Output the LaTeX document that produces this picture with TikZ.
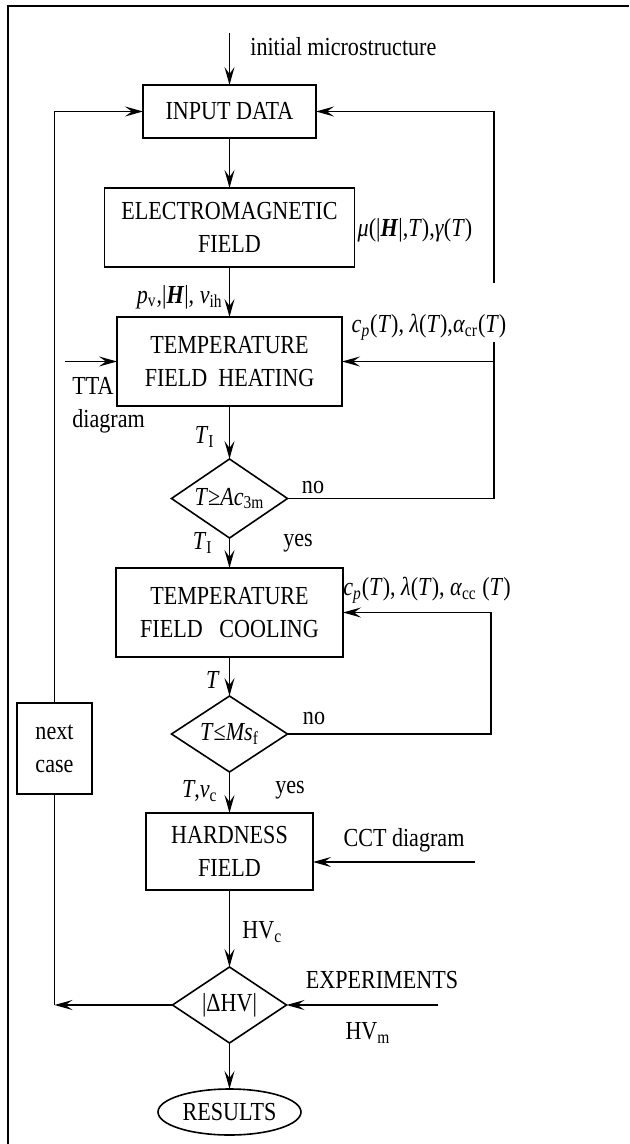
\documentclass[tikz,border=0pt]{standalone}
\usepackage{fontspec}
\setmainfont{Liberation Serif}[FakeStretch=0.85]
\usetikzlibrary{shapes.geometric, arrows.meta, positioning}
\tikzset{
    block/.style={rectangle, draw, line width=0.8pt, align=center, inner sep=0pt, outer sep=0pt},
    decision/.style={diamond, draw, line width=0.8pt, inner sep=0pt, outer sep=0pt, aspect=1.47, minimum width=58pt, minimum height=39.5pt},
    arrow/.style={line width=0.8pt, -{Stealth[length=9pt, width=5pt, inset=3.5pt]}},
    line/.style={line width=0.8pt}
}

\begin{document}
\begin{tikzpicture}[x=0.5pt, y=-0.5pt, every node/.append style={font=\fontsize{13}{16.5}\selectfont}]
    \useasboundingbox (0,0) rectangle (629,1144);
    % frame
    \draw[line width=1.2pt] (629,6) -- (8,6) -- (8,1144);

    % main column
    \node (input) [block, minimum width=86.5pt, minimum height=26.5pt] at (229.5,111.5) {INPUT DATA};
    \node (em) [block, below=25pt of input, minimum width=125pt, minimum height=39.5pt] {ELECTROMAGNETIC\\FIELD};
    \node (heat) [block, below=25pt of em, minimum width=112.5pt, minimum height=44.5pt] {TEMPERATURE\\FIELD\ \ HEATING};
    \node (dec1) [decision, below=26.5pt of heat] {\textit{T}≥\textit{Ac}\textsubscript{3m}};
    \node (cool) [block, below=15pt of dec1, minimum width=113.5pt, minimum height=44.5pt] {TEMPERATURE\\FIELD\ \ \ COOLING};
    \node (dec2) [decision, below=19.5pt of cool, minimum height=38pt] {\textit{T}≤\textit{Ms}\textsubscript{f}};
    \node (hard) [block, below=20.5pt of dec2, minimum width=83.5pt, minimum height=38.5pt] {HARDNESS\\FIELD};
    \node (dec3) [decision, below=38.5pt of hard, minimum width=57pt, minimum height=38pt] {|ΔHV|};
    \node (res) [ellipse, draw, line width=0.8pt, inner sep=0pt, outer sep=0pt, below=23pt of dec3, minimum width=71.5pt, minimum height=23pt] {RESULTS};

    % side box
    \node (next) [block, minimum width=37.5pt, minimum height=45.5pt] at (54.5,748.5) {next\\case};

    % free ends
    \coordinate (init) at (229.5,33);
    \coordinate (tta) at (65,361.5);
    \coordinate (rone) at (494,0);
    \coordinate (rtwo) at (491,0);
    \coordinate (cct) at (475,862);
    \coordinate (exp) at (438,0);

    % connectors
    \draw[arrow] (init) -- (input);
    \draw[arrow] (input) -- (em);
    \draw[arrow] (em) -- (heat);
    \draw[arrow] (heat) -- (dec1);
    \draw[arrow] (dec1) -- (cool);
    \draw[arrow] (cool) -- (dec2);
    \draw[arrow] (dec2) -- (hard);
    \draw[arrow] (hard) -- (dec3);
    \draw[arrow] (dec3) -- (res);
    \draw[arrow] (dec1.east) -| (rone |- input.east) -- (input.east);
    \draw[arrow] (rone |- heat.east) -- (heat.east);
    \draw[arrow] (dec2.east) -| (rtwo |- cool.east) -- (cool.east);
    \draw[arrow] (tta) -- (heat.west);
    \draw[arrow] (next.north) |- (input.west);
    \draw[line] (next.south) -- (next.south |- dec3.west);
    \draw[arrow] (dec3.west) -- (next.south |- dec3.west);
    \draw[arrow] (cct) -- (cct -| hard.east);
    \draw[arrow] (exp |- dec3.east) -- (dec3.east);

    % labels
    \node (initlbl) [anchor=west, inner sep=0pt] at (250,47) {initial microstructure};
    \node (emlbl) at (415,230) {\textit{μ}(|\textbf{\textit{H}}|,\textit{T}),\textit{γ}(\textit{T})};
    \node (pvlbl) [anchor=east, inner sep=0pt] at (223,297) {\textit{p}\textsubscript{v},|\textbf{\textit{H}}|, \textit{v}\textsubscript{ih}};
    \node (heatlbl) [anchor=base, fill=white, inner xsep=1pt, inner ysep=0pt, text height=25pt, text depth=4.5pt] at (429,333) {\textit{c\textsubscript{p}}(\textit{T}), \textit{λ}(\textit{T}),\textit{α}\textsubscript{cr}(\textit{T})};
    \node (ttalbl) [anchor=north west, align=left, inner sep=0pt] at (72,377) {TTA\\diagram};
    \node (tione) [anchor=east, inner sep=0pt] at (215,437) {\textit{T}\textsubscript{I}};
    \node (noone) at (313,487) {no};
    \node (titwo) [anchor=east, inner sep=0pt] at (213,543) {\textit{T}\textsubscript{I}};
    \node (yesone) at (298,543) {yes};
    \node (coollbl) at (427,590) {\textit{c\textsubscript{p}}(\textit{T}), \textit{λ}(\textit{T}), \textit{α}\textsubscript{cc} (\textit{T})};
    \node (tlbl) at (213,680) {\textit{T}};
    \node (notwo) at (314,718) {no};
    \node (tvlbl) [anchor=east, inner sep=0pt] at (218,791) {\textit{T},\textit{v}\textsubscript{c}};
    \node (yestwo) at (290,790) {yes};
    \node (cctlbl) at (404,840) {CCT diagram};
    \node (hvclbl) [anchor=west, inner sep=0pt] at (242,932) {HV\textsubscript{c}};
    \node (explbl) at (382,980) {EXPERIMENTS};
    \node (hvmlbl) at (368,1033) {HV\textsubscript{m}};
\end{tikzpicture}
\end{document}
